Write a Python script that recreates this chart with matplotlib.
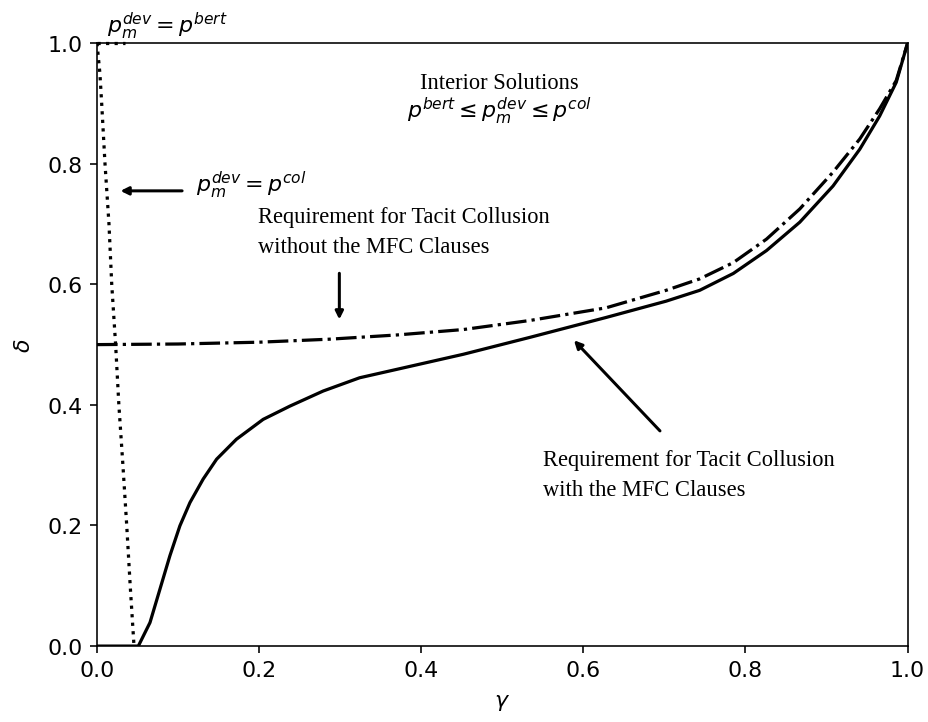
import matplotlib
matplotlib.use("Agg")
import matplotlib.pyplot as plt

# ── Data ──────────────────────────────────────────────────────────────────────
# dotted boundary p_m^dev = p^col
col_gamma = [0.0, 0.0036, 0.0058, 0.0099, 0.0148, 0.0182, 0.023, 0.027, 0.032, 0.0367, 0.041, 0.0457]
col_delta = [1.0, 0.95, 0.90, 0.80, 0.70, 0.60, 0.50, 0.40, 0.30, 0.20, 0.10, 0.0]

# short dotted piece at the top, p_m^dev = p^bert
bert_gamma = [0.0, 0.035]
bert_delta = [1.0, 1.0]

# solid: requirement with the MFC clauses
mfc_gamma = [0.0, 0.051, 0.0654, 0.0777, 0.090, 0.1023, 0.1147, 0.131, 0.1476, 0.172,
             0.205, 0.238, 0.279, 0.324, 0.37, 0.452, 0.534, 0.628, 0.702, 0.7435,
             0.785, 0.826, 0.867, 0.908, 0.941, 0.9655, 0.986, 1.0]
mfc_delta = [0.0, 0.0, 0.039, 0.0945, 0.150, 0.1995, 0.238, 0.277, 0.310, 0.343,
             0.376, 0.398, 0.423, 0.445, 0.459, 0.484, 0.512, 0.545, 0.572, 0.590,
             0.618, 0.656, 0.703, 0.763, 0.824, 0.879, 0.935, 1.0]

# dash-dot: requirement without the MFC clauses
nomfc_gamma = [0.0, 0.1, 0.2, 0.287, 0.37, 0.452, 0.534, 0.628, 0.702, 0.7435, 0.785,
               0.826, 0.867, 0.908, 0.941, 0.9655, 0.986, 1.0]
nomfc_delta = [0.5, 0.501, 0.504, 0.509, 0.516, 0.525, 0.54, 0.561, 0.590, 0.609, 0.636,
               0.675, 0.725, 0.786, 0.841, 0.891, 0.938, 1.0]

SERIF = "Liberation Serif"
TXT = 11.2

fig = plt.figure(figsize=(6.4, 4.986), dpi=145)
ax = fig.add_axes([0.1045, 0.105, 0.8735, 0.834])

ax.plot(col_gamma, col_delta, color="black", linestyle=":", linewidth=1.6)
ax.plot(bert_gamma, bert_delta, color="black", linestyle=":", linewidth=1.6, clip_on=False)
ax.plot(mfc_gamma, mfc_delta, color="black", linestyle="-", linewidth=1.6)
ax.plot(nomfc_gamma, nomfc_delta, color="black", linestyle="-.", linewidth=1.6)

ax.set_xlim(0, 1)
ax.set_ylim(0, 1)
ax.tick_params(labelsize=11)
ax.set_xlabel(r"$\gamma$", fontsize=11, labelpad=6)
ax.set_ylabel(r"$\delta$", fontsize=11, labelpad=7)

# ── Annotations ───────────────────────────────────────────────────────────────
arrow = dict(arrowstyle="-|>", color="black", lw=1.5, mutation_scale=8)

ax.text(0.012, 1.03, r"$p_m^{dev} = p^{bert}$", fontsize=11, va="center", ha="left",
        clip_on=False)

ax.annotate("", xy=(0.024, 0.755), xytext=(0.11, 0.755), arrowprops=arrow)
ax.text(0.122, 0.765, r"$p_m^{dev} = p^{col}$", fontsize=11, va="center", ha="left")

ax.text(0.497, 0.935, "Interior Solutions", fontfamily=SERIF, fontsize=TXT,
        ha="center", va="center")
ax.text(0.497, 0.888, r"$p^{bert} \leq p_m^{dev} \leq p^{col}$", fontsize=11,
        ha="center", va="center")

ax.text(0.199, 0.713, "Requirement for Tacit Collusion", fontfamily=SERIF, fontsize=TXT,
        ha="left", va="center")
ax.text(0.199, 0.663, "without the MFC Clauses", fontfamily=SERIF, fontsize=TXT,
        ha="left", va="center")
ax.annotate("", xy=(0.299, 0.535), xytext=(0.299, 0.625), arrowprops=arrow)

ax.text(0.55, 0.31, "Requirement for Tacit Collusion", fontfamily=SERIF, fontsize=TXT,
        ha="left", va="center")
ax.text(0.55, 0.26, "with the MFC Clauses", fontfamily=SERIF, fontsize=TXT,
        ha="left", va="center")
ax.annotate("", xy=(0.585, 0.512), xytext=(0.698, 0.352), arrowprops=arrow)

fig.savefig("out.png", dpi=145)
